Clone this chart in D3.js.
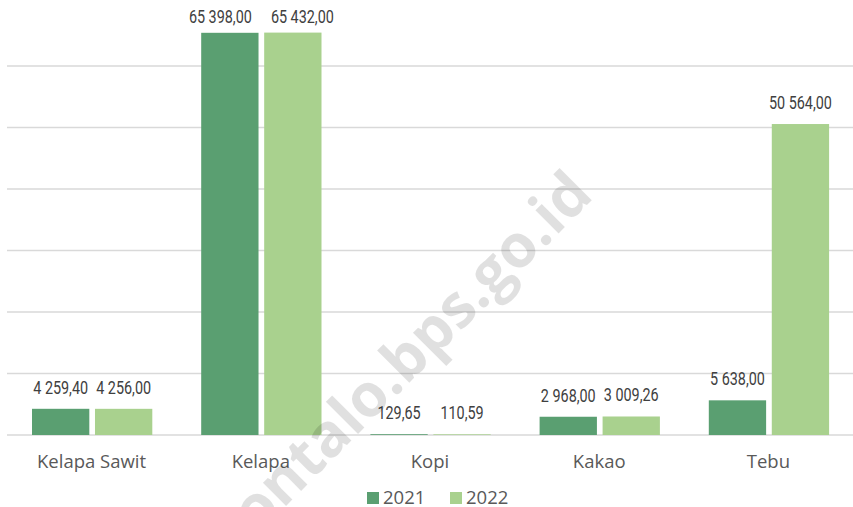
<!DOCTYPE html>
<html>
<head>
<meta charset="utf-8">
<script src="https://cdn.jsdelivr.net/npm/d3@7"></script>
<style>
  body { margin: 0; background: #fff; }
  svg { display: block; }
  .val { font-family: Roboto, "DejaVu Sans Condensed", sans-serif; font-size: 17.5px; fill: #404040; }
  .cat { font-family: "Open Sans", sans-serif; font-size: 18.5px; fill: #595959; }
  .leg { font-family: "Open Sans", sans-serif; font-size: 18.5px; fill: #595959; }
</style>
</head>
<body>
<svg id="chart"></svg>
<script>
const size = {w: 853, h: 507};
const plot = {l: 7, r: 853, top: 4.5, base: 435};

const categories = ['Kelapa Sawit', 'Kelapa', 'Kopi', 'Kakao', 'Tebu'];
const seriesNames = ['2021', '2022'];
const values2021 = [4259.40, 65398.00, 129.65, 2968.00, 5638.00];
const values2022 = [4256.00, 65432.00, 110.59, 3009.26, 50564.00];
const gridTicks = [0, 10000, 20000, 30000, 40000, 50000, 60000];
const colors = ['#5a9f71', '#a9d18e'];

const svg = d3.select('svg#chart')
    .attr('width', size.w)
    .attr('height', size.h);

const fmt = v => {
    // 65398 -> "65 398,00"
    let s = v.toFixed(2).split('.');
    let int = s[0].replace(/\B(?=(\d{3})+(?!\d))/g, ' ');
    return int + ',' + s[1];
};

let data = categories.map((c, i) => ({
    cat: c,
    vals: [values2021[i], values2022[i]]
}));

let xScale = d3.scaleBand()
    .domain(categories)
    .range([plot.l, plot.r]);

let xInner = d3.scaleBand()
    .domain(seriesNames)
    .range([25, 145.3])
    .paddingInner(0.09);

let yScale = d3.scaleLinear()
    .domain([0, 70000])
    .range([plot.base, plot.top]);

// gridlines
svg.append('g')
    .classed('grid', true)
    .selectAll('line')
    .data(gridTicks)
    .join('line')
    .attr('x1', plot.l)
    .attr('x2', plot.r)
    .attr('y1', d => yScale(d))
    .attr('y2', d => yScale(d))
    .attr('stroke', '#d9d9d9')
    .attr('stroke-width', 1.4);

// bars
let groups = svg.append('g')
    .classed('bars', true)
    .selectAll('g')
    .data(data)
    .join('g')
    .attr('transform', d => `translate(${xScale(d.cat)}, 0)`);

groups.selectAll('rect')
    .data(d => d.vals.map((v, i) => ({key: seriesNames[i], value: v, i: i})))
    .join('rect')
    .attr('x', d => xInner(d.key))
    .attr('y', d => yScale(d.value))
    .attr('width', xInner.bandwidth())
    .attr('height', d => yScale(0) - yScale(d.value))
    .attr('fill', d => colors[d.i]);

// condensed look: measure one label and squeeze horizontally
let probe = svg.append('text').classed('val', true).text('65 398,00');
let labelW = 63;
let squeeze = labelW / probe.node().getComputedTextLength();
probe.remove();

const labelTop = 23;
const labelGap = 19;

groups.selectAll('text')
    .data(d => d.vals.map((v, i) => ({key: seriesNames[i], value: v, i: i, vals: d.vals})))
    .join('text')
    .classed('val', true)
    .attr('text-anchor', 'middle')
    .attr('transform', d => {
        let x = xInner(d.key) + xInner.bandwidth() / 2;
        let y = Math.max(yScale(d.value) - 15, labelTop);
        // both labels pushed to the top -> spread them apart
        let bothClamped = d.vals.every(v => yScale(v) - 15 < labelTop);
        if (bothClamped) {
            let dist = xInner.step();
            let need = labelW + labelGap - dist;
            x += (d.i === 0 ? -1 : 1) * need / 2;
        }
        return `translate(${x}, ${y}) scale(${squeeze}, 1)`;
    })
    .text(d => fmt(d.value));

// category labels
svg.append('g')
    .selectAll('text')
    .data(categories)
    .join('text')
    .classed('cat', true)
    .attr('text-anchor', 'middle')
    .attr('x', d => xScale(d) + xScale.bandwidth() / 2)
    .attr('y', 468)
    .text(d => d);

// legend
let legendX = d3.scalePoint()
    .domain(seriesNames)
    .range([367, 450]);

let legend = svg.append('g')
    .selectAll('g')
    .data(seriesNames)
    .join('g')
    .attr('transform', d => `translate(${legendX(d)}, 491)`);

legend.append('rect')
    .attr('width', 12)
    .attr('height', 12)
    .attr('y', 1)
    .attr('fill', (d, i) => colors[i]);

legend.append('text')
    .classed('leg', true)
    .attr('x', 16)
    .attr('y', 13)
    .text(d => d);

// watermark
svg.append('text')
    .text('gorontalo.bps.go.id')
    .attr('transform', 'translate(595, 197) rotate(-45)')
    .attr('text-anchor', 'end')
    .attr('font-family', '"Open Sans", sans-serif')
    .attr('font-weight', 700)
    .attr('font-size', 60)
    .attr('fill', '#000')
    .attr('fill-opacity', 0.12);
</script>
</body>
</html>
